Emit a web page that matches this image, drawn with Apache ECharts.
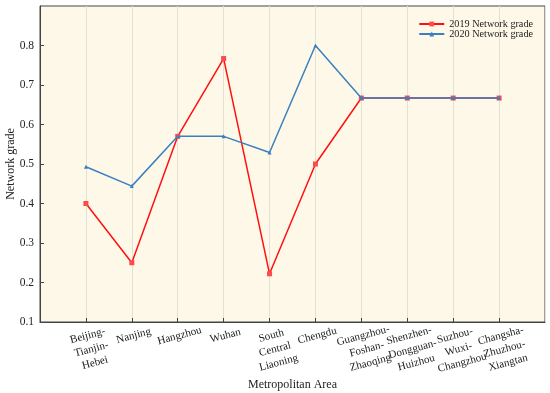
<!DOCTYPE html>
<html>
<head>
<meta charset="utf-8">
<script src="https://cdn.jsdelivr.net/npm/echarts@6/dist/echarts.min.js"></script>
<style>
html,body{margin:0;padding:0;background:#fff;}
#c{width:550px;height:393px;}
</style>
</head>
<body>
<div id="c"></div>
<script>
const categories = [
  "Beijing-\nTianjin-\nHebei", "Nanjing", "Hangzhou", "Wuhan",
  "South\nCentral\nLiaoning", "Chengdu", "Guangzhou-\nFoshan-\nZhaoqing",
  "Shenzhen-\nDongguan-\nHuizhou", "Suzhou-\nWuxi-\nChangzhou", "Changsha-\nZhuzhou-\nXiangtan"
];
const grade2019 = [0.40, 0.25, 0.57, 0.767, 0.222, 0.50, 0.667, 0.667, 0.667, 0.667];
const grade2020 = [0.493, 0.444, 0.57, 0.57, 0.529, 0.80, 0.667, 0.667, 0.667, 0.667];
const seriesNames = ["2019 Network grade", "2020 Network grade"];
const yTicks = [0.1, 0.2, 0.3, 0.4, 0.5, 0.6, 0.7, 0.8];

const font = "'Liberation Serif', 'Times New Roman', serif";
const chart = echarts.init(document.getElementById('c'), null, {renderer: 'canvas'});
const pts = arr => arr.map((v, i) => [i + 1, v]);

chart.setOption({
  animation: false,
  textStyle: {fontFamily: font},
  grid: {left: 40, right: 5, top: 6, bottom: 71, show: true,
         containLabel: false, outerBoundsMode: 'none',
         backgroundColor: '#FEF8E9', borderColor: '#444', borderWidth: 1},
  legend: {
    orient: 'vertical', right: 12, top: 14, itemGap: 0,
    itemWidth: 25, itemHeight: 6,
    textStyle: {fontFamily: font, fontSize: 10.2, color: '#222'},
    data: seriesNames
  },
  xAxis: {
    type: 'value', min: 0, max: 11, interval: 1,
    name: 'Metropolitan Area', nameLocation: 'middle', nameGap: 57,
    nameMoveOverlap: false,
    nameTextStyle: {fontFamily: font, fontSize: 12, color: '#222'},
    axisLine: {show: true, lineStyle: {color: '#444'}},
    axisTick: {show: true, inside: true, length: 4, lineStyle: {color: '#444'}},
    splitLine: {show: true, lineStyle: {color: '#E3E0D6', width: 1}},
    axisLabel: {
      rotate: 15, margin: 7, align: 'center', verticalAlign: 'top',
      fontFamily: font, fontSize: 11, color: '#222', lineHeight: 14,
      showMinLabel: false, showMaxLabel: false,
      formatter: v => (v >= 1 && v <= categories.length) ? categories[v - 1] : ''
    }
  },
  yAxis: {
    type: 'value', min: 0.1, max: 0.9, interval: 0.1,
    name: 'Network grade', nameLocation: 'middle', nameGap: 23,
    nameMoveOverlap: false,
    nameTextStyle: {fontFamily: font, fontSize: 12, color: '#222'},
    axisLine: {show: true, lineStyle: {color: '#444'}},
    axisTick: {show: true, inside: true, length: 4, lineStyle: {color: '#444'}},
    splitLine: {show: false},
    axisLabel: {
      fontFamily: font, fontSize: 11.5, color: '#222', margin: 6,
      showMaxLabel: false,
      formatter: v => yTicks.some(t => Math.abs(t - v) < 1e-6) ? v.toFixed(1) : ''
    }
  },
  series: [
    {
      name: seriesNames[0], type: 'line', data: pts(grade2019),
      symbol: 'rect', symbolSize: 5, z: 2,
      lineStyle: {color: '#FF1010', width: 1.5},
      itemStyle: {color: '#FF4A4A'}
    },
    {
      name: seriesNames[1], type: 'line', data: pts(grade2020),
      symbol: 'triangle', symbolSize: 4, z: 3,
      lineStyle: {color: '#3A80C0', width: 1.5},
      itemStyle: {color: '#3A80C0'}
    }
  ]
});
</script>
</body>
</html>
